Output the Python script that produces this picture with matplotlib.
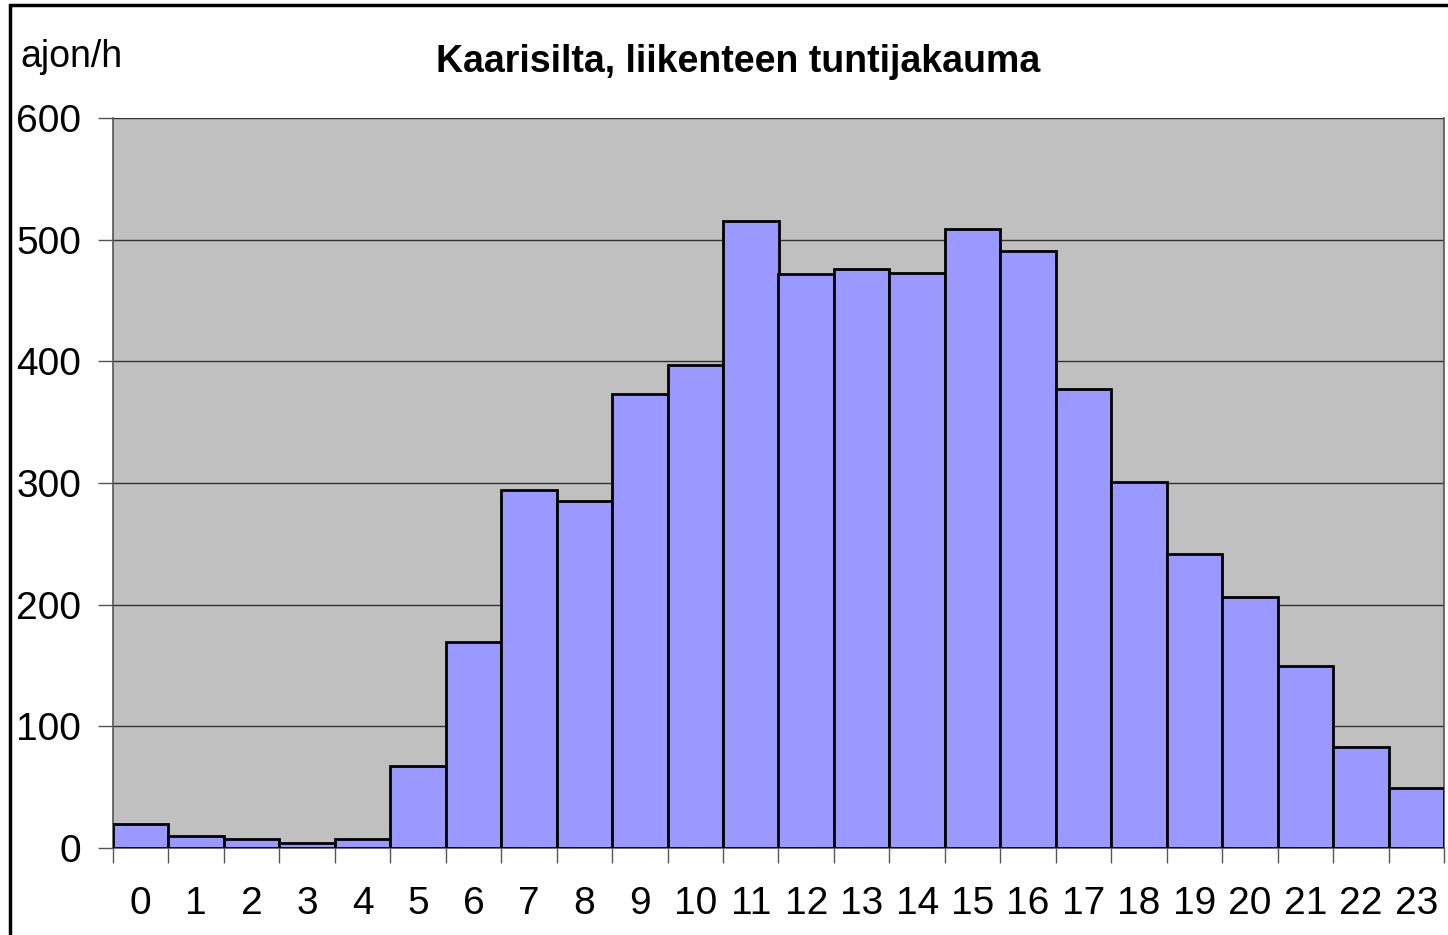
import matplotlib
matplotlib.use("Agg")
import matplotlib.pyplot as plt
import numpy as np
from matplotlib.patches import Rectangle

hours = list(range(24))
values = [20, 10, 7, 4, 7, 67, 169, 294, 285, 373, 397, 515,
          472, 476, 473, 509, 491, 377, 301, 242, 206, 150, 83, 49]
title = "Kaarisilta, liikenteen tuntijakauma"
ylabel = "ajon/h"
yticks = [0, 100, 200, 300, 400, 500, 600]

plt.rcParams['font.family'] = ['Liberation Sans', 'DejaVu Sans']

fig = plt.figure(figsize=(14.48, 9.35), dpi=100)
ax = fig.add_axes([113/1448, 1-848/935, (1444-113)/1448, (848-118)/935])
ax.set_facecolor('#C0C0C0')
ax.bar(hours, values, width=1.0, color='#9999FF', edgecolor='black', linewidth=2, zorder=3)
ax.set_xlim(-0.5, 23.5)
ax.set_ylim(0, 600)
ax.set_yticks(yticks)
ax.set_yticklabels([str(v) for v in yticks], fontsize=28)
ax.yaxis.grid(True, color='#333333', linewidth=1, zorder=0)
ax.set_axisbelow(True)
ax.set_xticks(np.arange(-0.5, 24, 1))
ax.set_xticklabels([])
ax.set_xticks(hours, minor=True)
ax.set_xticklabels([str(h) for h in hours], minor=True, fontsize=28)
ax.tick_params(axis='x', which='major', length=11, width=1, color='#555555', direction='out')
ax.tick_params(axis='x', which='minor', length=0, pad=27)
ax.tick_params(axis='y', length=11, width=1, color='#555555', direction='out', pad=12)
for s in ['left', 'bottom', 'right']:
    ax.spines[s].set_color('#555555')
    ax.spines[s].set_linewidth(1.2)
ax.spines['top'].set_visible(False)

fig.text(738/1448, 1-62/935, title, fontsize=27, fontweight='bold', ha='center', va='center')
fig.text(20/1448, 1-57/935, ylabel, fontsize=27, ha='left', va='center')

fig.patches.append(Rectangle((10/1448, -0.1), 1.2, 1-5/935+0.1, transform=fig.transFigure,
                             fill=False, edgecolor='black', linewidth=2.5))

fig.savefig('out.png', dpi=100)
